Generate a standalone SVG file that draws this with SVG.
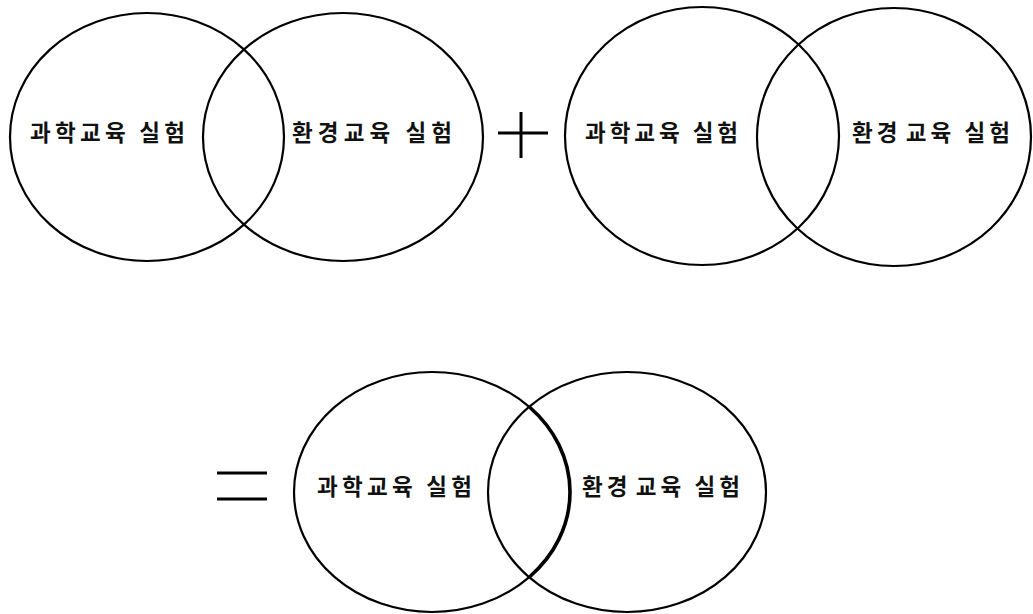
<svg xmlns="http://www.w3.org/2000/svg" width="1033" height="614" viewBox="0 0 1033 614">
<style>
.c{fill:none;stroke:#000;stroke-width:2.2}
.t{font-family:"Noto Sans CJK KR","Noto Sans",sans-serif;font-size:22.5px;font-weight:bold;fill:#111}
.s{stroke:#000;stroke-width:3;stroke-linecap:butt}
</style>
<rect width="1033" height="614" fill="#fff"/>
<g id="venn1">
<g id="v1-science"><ellipse class="c" cx="147" cy="137" rx="137" ry="124"/><text class="t" x="30" y="141" textLength="155" lengthAdjust="spacing">과학교육 실험</text></g>
<g id="v1-env"><ellipse class="c" cx="343" cy="137" rx="140" ry="124"/><text class="t" x="292" y="141" textLength="160" lengthAdjust="spacing">환경교육 실험</text></g>
</g>
<g id="plus"><line class="s" x1="498" y1="133" x2="548" y2="133"/><line class="s" x1="521" y1="112" x2="521" y2="158"/></g>
<g id="venn2">
<g id="v2-science"><ellipse class="c" cx="702" cy="136" rx="137" ry="129"/><text class="t" x="585" y="141" textLength="153" lengthAdjust="spacing">과학교육 실험</text></g>
<g id="v2-env"><ellipse class="c" cx="894" cy="137" rx="137" ry="129"/><text class="t" x="852" y="141" textLength="158" lengthAdjust="spacing">환경<tspan dx="4">교육 실험</tspan></text></g>
</g>
<g id="equals"><line class="s" x1="217" y1="473" x2="267" y2="473"/><line class="s" x1="217" y1="499" x2="267" y2="499"/></g>
<g id="venn3">
<g id="v3-science"><ellipse class="c" cx="432" cy="492" rx="138" ry="120"/><path d="M530,407.5 A138,120 0 0 1 530,576.5" fill="none" stroke="#000" stroke-width="3.6"/><text class="t" x="317" y="495" textLength="155" lengthAdjust="spacing">과학교육 실험</text></g>
<g id="v3-env"><ellipse class="c" cx="627" cy="492" rx="139" ry="120"/><text class="t" x="582" y="495" textLength="158" lengthAdjust="spacing">환경<tspan dx="4">교육 실험</tspan></text></g>
</g>
<g id="connectors"></g>
</svg>
